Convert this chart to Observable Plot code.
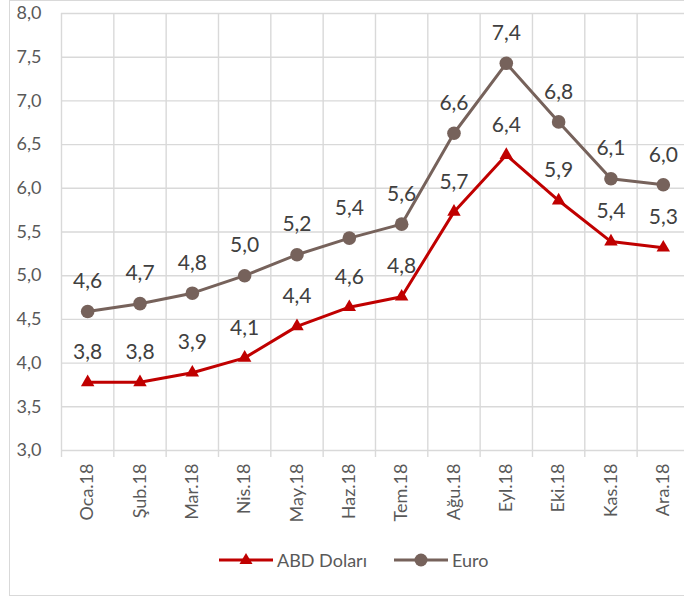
<!DOCTYPE html>
<html>
<head>
<meta charset="utf-8">
<script src="https://cdn.jsdelivr.net/npm/d3@7"></script>
<script src="https://cdn.jsdelivr.net/npm/@observablehq/plot@0.6"></script>
<style>
  html, body { margin: 0; padding: 0; background: #fff; overflow: hidden; }
  #wrap { position: relative; width: 684px; height: 599px; font-family: Lato, "Open Sans", sans-serif; }
  #frame { position: absolute; left: 9px; top: 0px; width: 690px; height: 596px; border: 1.5px solid #d9d9d9; box-sizing: border-box; pointer-events: none; }
  #chart { position: absolute; left: 0; top: 0; }
  #legend { position: absolute; left: 0; top: 547px; width: 684px; height: 26px; }
  .item { position: absolute; top: 0; display: flex; align-items: center; height: 26px; font-size: 18px; color: #595959; }
  .item svg { margin-right: 4px; }
</style>
</head>
<body>
<div id="wrap">
  <div id="frame"></div>
  <div id="chart"></div>
  <div id="legend"></div>
</div>
<script>
const months = ["Oca.18","Şub.18","Mar.18","Nis.18","May.18","Haz.18","Tem.18","Ağu.18","Eyl.18","Eki.18","Kas.18","Ara.18"];
const usd  = [3.78, 3.78, 3.89, 4.06, 4.42, 4.64, 4.76, 5.73, 6.38, 5.86, 5.39, 5.32];
const euro = [4.59, 4.68, 4.80, 5.00, 5.24, 5.43, 5.59, 6.63, 7.43, 6.76, 6.11, 6.04];
const yTicks = [3, 3.5, 4, 4.5, 5, 5.5, 6, 6.5, 7, 7.5, 8];
const seriesNames = ["ABD Doları", "Euro"];
const colors = ["#C00000", "#76625B"];

const fmt = v => d3.format(".1f")(v).replace(".", ",");
const rows = (vals, name) => vals.map((v, i) => ({pos: i + 0.5, month: months[i], value: v, series: name}));
const dUsd = rows(usd, seriesNames[0]);
const dEuro = rows(euro, seriesNames[1]);
const bounds = d3.range(months.length);
const centers = months.map((m, i) => i + 0.5);

const W = 684, ML = 61, MR = 0;
const bandPx = 52.33;
const xMax = (W - ML - MR) / bandPx;
const grid = "#d9d9d9";

const chart = Plot.plot({
  width: W,
  height: 540,
  marginLeft: ML,
  marginRight: MR,
  marginTop: 13,
  marginBottom: 90,
  style: {fontFamily: "Lato, 'Open Sans', sans-serif", background: "transparent", overflow: "visible"},
  x: {type: "linear", domain: [0, xMax]},
  y: {domain: [3, 8]},
  marks: [
    Plot.gridY(yTicks, {stroke: grid, strokeOpacity: 1, strokeWidth: 1.4}),
    Plot.gridX(bounds, {stroke: grid, strokeOpacity: 1, strokeWidth: 1.4}),
    Plot.axisX(bounds, {tickSize: 7, stroke: grid, strokeOpacity: 1, strokeWidth: 1.4, tickFormat: () => "", label: null}),
    Plot.axisX(centers, {tickSize: 0, tickRotate: -90, tickPadding: 13, tickFormat: d => months[Math.floor(d)], fontSize: 18, fill: "#595959", label: null}),
    Plot.axisY(yTicks, {tickSize: 0, tickPadding: 20, tickFormat: fmt, fontSize: 18, fill: "#595959", label: null}),
    Plot.line(dEuro, {x: "pos", y: "value", stroke: colors[1], strokeWidth: 3}),
    Plot.line(dUsd, {x: "pos", y: "value", stroke: colors[0], strokeWidth: 3}),
    Plot.dot(dEuro, {x: "pos", y: "value", fill: colors[1], r: 6.8, symbol: "circle"}),
    Plot.dot(dUsd, {x: "pos", y: "value", fill: colors[0], r: 5, symbol: "triangle"}),
    Plot.text(dEuro, {x: "pos", y: "value", text: d => fmt(d.value), dy: -30, fontSize: 21, fill: "#404040"}),
    Plot.text(dUsd, {x: "pos", y: "value", text: d => fmt(d.value), dy: -30, fontSize: 21, fill: "#404040"})
  ]
});
document.getElementById("chart").appendChild(chart);

// legend
const legend = document.getElementById("legend");
const legendX = [219, 394];
seriesNames.forEach((name, k) => {
  const item = document.createElement("div");
  item.className = "item";
  item.style.left = legendX[k] + "px";
  const marker = k === 0
    ? `<polygon points="27,6 33.5,17 20.5,17" fill="${colors[k]}"/>`
    : `<circle cx="27" cy="13" r="6.5" fill="${colors[k]}"/>`;
  item.innerHTML = `<svg width="54" height="26"><line x1="0" x2="54" y1="13" y2="13" stroke="${colors[k]}" stroke-width="3"/>${marker}</svg><span>${name}</span>`;
  legend.appendChild(item);
});
</script>
</body>
</html>
